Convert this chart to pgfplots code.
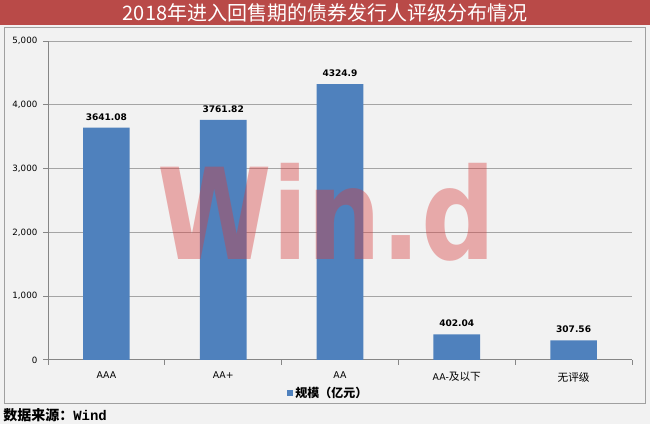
\documentclass[border=0pt]{standalone}
\usepackage{fontspec}
\setmainfont{DejaVu Sans}
\newfontfamily\cjk{Noto Sans CJK SC}
\newfontfamily\monof{Liberation Mono}
\usepackage{graphicx}
\usepackage{pgfplots}
\pgfplotsset{compat=1.18}
\definecolor{barblue}{RGB}{79,129,189}
\definecolor{bgc}{RGB}{242,242,242}
\definecolor{titlered}{RGB}{185,74,72}
\definecolor{bordergray}{RGB}{160,160,160}
\definecolor{axisgray}{RGB}{134,134,134}
\definecolor{gridgray}{RGB}{165,165,165}
\definecolor{wmred}{RGB}{215,60,60}
\begin{document}
\begin{tikzpicture}[x=0.75pt,y=0.75pt]
\fill[bgc] (0,0) rectangle (650,424);
\useasboundingbox (0,0) rectangle (650,424);
\fill[titlered] (0,399) rectangle (650,424);
\node[text=white, font=\cjk\fontsize{15}{16}\selectfont, inner sep=0] at (325,411.5) {2018年进入回售期的债券发行人评级分布情况};
\draw[bordergray, line width=0.75pt] (4,20) rectangle (645,396);
\begin{axis}[
  at={(36pt,48pt)}, anchor=south west, scale only axis,
  width=438pt, height=239.25pt,
  ybar, bar width=35pt,
  xmin=-0.5, xmax=4.5, ymin=0, ymax=5000,
  enlargelimits=false,
  xtick={0,1,2,3,4},
  xticklabels={AAA, AA+, AA, {AA-{\cjk\fontsize{8}{9}\selectfont 及以下}}, {\cjk\fontsize{8}{9}\selectfont 无评级}},
  minor xtick={-0.5,0.5,1.5,2.5,3.5,4.5},
  major x tick style={draw=none},
  minor x tick style={draw=axisgray, line width=0.75pt},
  minor tick length=3.5pt,
  major tick length=3.5pt,
  tick align=outside,
  ytick={0,1000,2000,3000,4000,5000},
  y tick style={draw=axisgray, line width=0.75pt},
  ymajorgrids,
  grid style={gridgray, line width=0.75pt},
  axis x line*=bottom, axis y line*=left,
  axis line style={axisgray, line width=0.75pt},
  /pgf/number format/assume math mode=true,
  /pgf/number format/1000 sep={,},
  y tick label style={font=\fontsize{6.5}{8}\selectfont, xshift=-1pt},
  x tick label style={font=\fontsize{7}{8}\selectfont, yshift=-2pt},
  nodes near coords,
  point meta=explicit symbolic,
  nodes near coords style={font=\bfseries\fontsize{6.8}{8}\selectfont, text=black, yshift=2pt},
  legend style={at={(0.48,-0.103)}, anchor=center, draw=none, fill=none,
    font=\cjk\bfseries\fontsize{9}{10}\selectfont, inner sep=0pt},
  legend image code/.code={\fill[barblue] (0pt,-2.3pt) rectangle (4.6pt,2.3pt);},
]
\addplot[fill=barblue, draw=none] table[meta=lab] {
x y lab
0 3641.08 3641.08
1 3761.82 3761.82
2 4324.9 4324.9
3 402.04 402.04
4 307.56 307.56
};
\addlegendentry{规模（亿元）}
\end{axis}
\node[text=wmred, opacity=0.4, font=\bfseries\fontsize{95}{95}\selectfont, anchor=base, inner sep=0] at (326.5,164) {\scalebox{0.82}[1]{Win.d}};
\node[anchor=base west, inner sep=0, font=\bfseries\fontsize{10.5}{12}\selectfont] at (3,3.5) {{\cjk 数据来源：}{\monof Wind}};
\end{tikzpicture}
\end{document}
